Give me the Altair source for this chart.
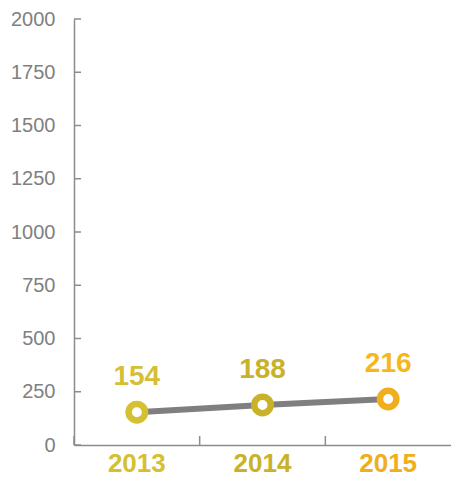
import altair as alt
import pandas as pd

years = ["2013", "2014", "2015"]
values = [154, 188, 216]
point_colors = ["#D5C032", "#C9B22A", "#F0AE1C"]
label_colors = ["#D5BF34", "#C9B22A", "#F7B718"]
y_ticks = [0, 250, 500, 750, 1000, 1250, 1500, 1750, 2000]

df = pd.DataFrame({"year": years, "value": values})
df_ticks = pd.DataFrame({"tick": y_ticks})

W, H = 377, 426
FONT = "Liberation Sans"
GRAY = "#8C8C8C"

xscale = alt.Scale(type="band", domain=years, paddingInner=0, paddingOuter=0)
yscale = alt.Scale(domain=[0, 2000], nice=False, zero=True)

lab_expr = ("datum.label == '2013' ? '%s' : datum.label == '2014' ? '%s' : '%s'"
            % tuple(point_colors))

x_axis = alt.Axis(orient="bottom", ticks=False, domainColor=GRAY, domainWidth=1.5,
                  labelFont=FONT, labelFontSize=26, labelFontWeight="bold",
                  labelColor=alt.expr(lab_expr), labelPadding=5, labelAngle=0,
                  grid=False, title=None)
y_axis = alt.Axis(orient="left", values=y_ticks, ticks=False, domainColor=GRAY,
                  format="d", domainWidth=1.5, labelFont=FONT, labelFontSize=20,
                  labelColor="#808080", labelPadding=19, grid=False, title=None)


def X(**kw):
    return alt.X("year:N", scale=xscale, axis=x_axis, title=None, **kw)


def Y(field="value:Q"):
    return alt.Y(field, scale=yscale, axis=y_axis, title=None)


line = alt.Chart(df).mark_line(color="#7F7F7F", strokeWidth=6).encode(x=X(), y=Y())

# inward x ticks at band boundaries
xticks = alt.Chart(df).mark_rule(color=GRAY, strokeWidth=1.5).encode(
    x=X(bandPosition=0), y=alt.value(H - 9), y2=alt.value(H))

# inward y ticks
yticks = alt.Chart(df_ticks).mark_rule(color=GRAY, strokeWidth=1.5).encode(
    y=Y("tick:Q"), x=alt.value(0), x2=alt.value(7))

color_scale = alt.Scale(domain=years, range=point_colors)
label_scale = alt.Scale(domain=years, range=label_colors)

points = alt.Chart(df).mark_point(shape="circle", filled=True, fill="white", size=270,
                                  strokeWidth=6.5, opacity=1).encode(
    x=X(), y=Y(),
    stroke=alt.Color("year:N", scale=color_scale, legend=None))

texts = alt.Chart(df).mark_text(font=FONT, fontSize=28, fontWeight="bold", dy=-27,
                                baseline="alphabetic").encode(
    x=X(), y=Y(),
    text="value:Q",
    color=alt.Color("year:N", scale=label_scale, legend=None))

chart = alt.layer(line, xticks, yticks, points, texts).resolve_scale(
    color="independent").properties(
    width=W, height=H, background="white",
    autosize=alt.AutoSizeParams(type="none"),
    padding={"left": 66, "top": 11, "right": 0, "bottom": 31}
).configure_view(strokeWidth=0, stroke="transparent")

chart.save("out.html", embed_options={"renderer": "svg", "actions": False})
